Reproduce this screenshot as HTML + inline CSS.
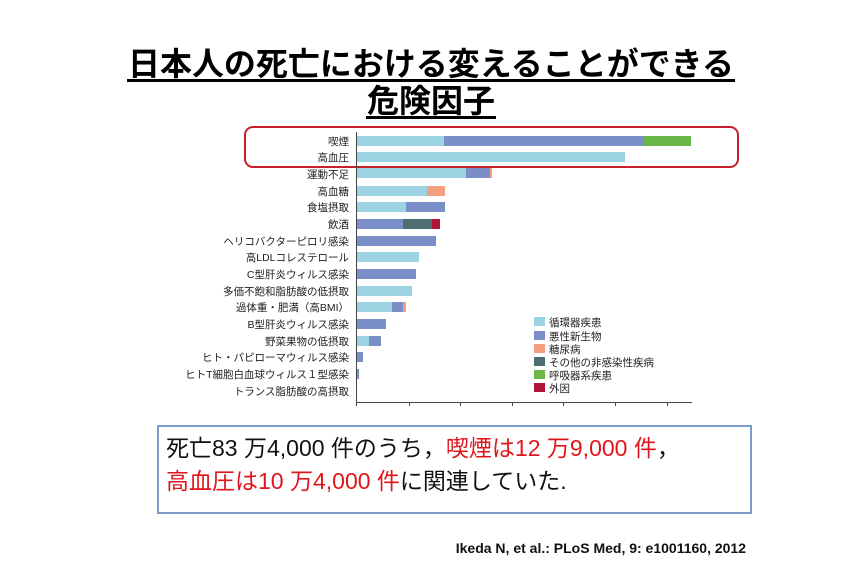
<!DOCTYPE html>
<html><head><meta charset="utf-8"><style>
html,body{margin:0;padding:0;background:#fff;}
svg{display:block;}
text{font-family:"Liberation Sans","Noto Sans CJK JP",sans-serif;}
</style></head><body>
<svg width="860" height="585" viewBox="0 0 860 585" xmlns="http://www.w3.org/2000/svg">
<rect width="860" height="585" fill="#fff"/>
<g font-weight="bold" font-size="32" text-anchor="middle" fill="#000">
<text x="431" y="75" textLength="606" lengthAdjust="spacingAndGlyphs">日本人の死亡における変えることができる</text>
<rect x="127" y="79" width="608" height="3" fill="#000"/>
<text x="431" y="112">危険因子</text>
<rect x="366" y="116" width="130" height="3" fill="#000"/>
</g>
<rect x="245" y="127" width="493" height="40" rx="8" fill="none" stroke="#c8202a" stroke-width="2"/>
<g stroke="#444" stroke-width="1">
<line x1="356.5" y1="132" x2="356.5" y2="403"/>
<line x1="356" y1="402.5" x2="692" y2="402.5"/>
<line x1="409.5" y1="402" x2="409.5" y2="406"/><line x1="460.5" y1="402" x2="460.5" y2="406"/><line x1="512.5" y1="402" x2="512.5" y2="406"/><line x1="563.5" y1="402" x2="563.5" y2="406"/><line x1="615.5" y1="402" x2="615.5" y2="406"/><line x1="667.5" y1="402" x2="667.5" y2="406"/><line x1="356.5" y1="402" x2="356.5" y2="406"/>
</g>
<g>
<!-- rows: height 10 -->
<rect x="357" y="136" width="87" height="10" fill="#9bd3e2"/><rect x="444" y="136" width="200" height="10" fill="#7a8fc7"/><rect x="644" y="136" width="47" height="10" fill="#6ab84a"/>
<rect x="357" y="152" width="268" height="10" fill="#9bd3e2"/>
<rect x="357" y="168" width="109" height="10" fill="#9bd3e2"/><rect x="466" y="168" width="24" height="10" fill="#7a8fc7"/><rect x="490" y="168" width="2" height="10" fill="#f4a080"/>
<rect x="357" y="186" width="70" height="10" fill="#9bd3e2"/><rect x="427" y="186" width="18" height="10" fill="#f4a080"/>
<rect x="357" y="202" width="49" height="10" fill="#9bd3e2"/><rect x="406" y="202" width="39" height="10" fill="#7a8fc7"/>
<rect x="357" y="219" width="46" height="10" fill="#7a8fc7"/><rect x="403" y="219" width="29" height="10" fill="#4e6e74"/><rect x="432" y="219" width="8" height="10" fill="#b0163a"/>
<rect x="357" y="236" width="79" height="10" fill="#7a8fc7"/>
<rect x="357" y="252" width="62" height="10" fill="#9bd3e2"/>
<rect x="357" y="269" width="59" height="10" fill="#7a8fc7"/>
<rect x="357" y="286" width="55" height="10" fill="#9bd3e2"/>
<rect x="357" y="302" width="35" height="10" fill="#9bd3e2"/><rect x="392" y="302" width="11" height="10" fill="#7a8fc7"/><rect x="403" y="302" width="3" height="10" fill="#f4a080"/>
<rect x="357" y="319" width="29" height="10" fill="#7a8fc7"/>
<rect x="357" y="336" width="12" height="10" fill="#9bd3e2"/><rect x="369" y="336" width="12" height="10" fill="#7a8fc7"/>
<rect x="357" y="352" width="6" height="10" fill="#7a8fc7"/>
<rect x="357" y="369" width="2" height="10" fill="#7a8fc7"/>
</g>
<g font-size="10.5" text-anchor="end" fill="#222">
<text x="349" y="145">喫煙</text>
<text x="349" y="161">高血圧</text>
<text x="349" y="178">運動不足</text>
<text x="349" y="195">高血糖</text>
<text x="349" y="211">食塩摂取</text>
<text x="349" y="228">飲酒</text>
<text x="349" y="245">ヘリコバクターピロリ感染</text>
<text x="349" y="261">高LDLコレステロール</text>
<text x="349" y="278">C型肝炎ウィルス感染</text>
<text x="349" y="295">多価不飽和脂肪酸の低摂取</text>
<text x="349" y="311">過体重・肥満（高BMI）</text>
<text x="349" y="328">B型肝炎ウィルス感染</text>
<text x="349" y="345">野菜果物の低摂取</text>
<text x="349" y="361">ヒト・パピローマウィルス感染</text>
<text x="349" y="378">ヒトT細胞白血球ウィルス１型感染</text>
<text x="349" y="395">トランス脂肪酸の高摂取</text>
</g>
<g font-size="10.5" fill="#222">
<rect x="534" y="317" width="11" height="9" fill="#9bd3e2"/><text x="549" y="326">循環器疾患</text>
<rect x="534" y="331" width="11" height="9" fill="#7a8fc7"/><text x="549" y="340">悪性新生物</text>
<rect x="534" y="344" width="11" height="9" fill="#f4a080"/><text x="549" y="353">糖尿病</text>
<rect x="534" y="357" width="11" height="9" fill="#4e6e74"/><text x="549" y="366">その他の非感染性疾病</text>
<rect x="534" y="370" width="11" height="9" fill="#6ab84a"/><text x="549" y="379">呼吸器系疾患</text>
<rect x="534" y="383" width="11" height="9" fill="#b0163a"/><text x="549" y="392">外因</text>
</g>
<rect x="158" y="426" width="593" height="87" fill="#fff" stroke="#7a9ccc" stroke-width="2"/>
<g font-size="23">
<text x="166" y="456"><tspan fill="#111">死亡83 万4,000 件のうち，</tspan><tspan fill="#e0151b">喫煙は12 万9,000 件</tspan><tspan fill="#111">，</tspan></text>
<text x="166" y="489"><tspan fill="#e0151b">高血圧は10 万4,000 件</tspan><tspan fill="#111">に関連していた.</tspan></text>
</g>
<text x="746" y="553" font-size="14" font-weight="bold" text-anchor="end" fill="#111">Ikeda N, et al.: PLoS Med, 9: e1001160, 2012</text>
</svg>
</body></html>
